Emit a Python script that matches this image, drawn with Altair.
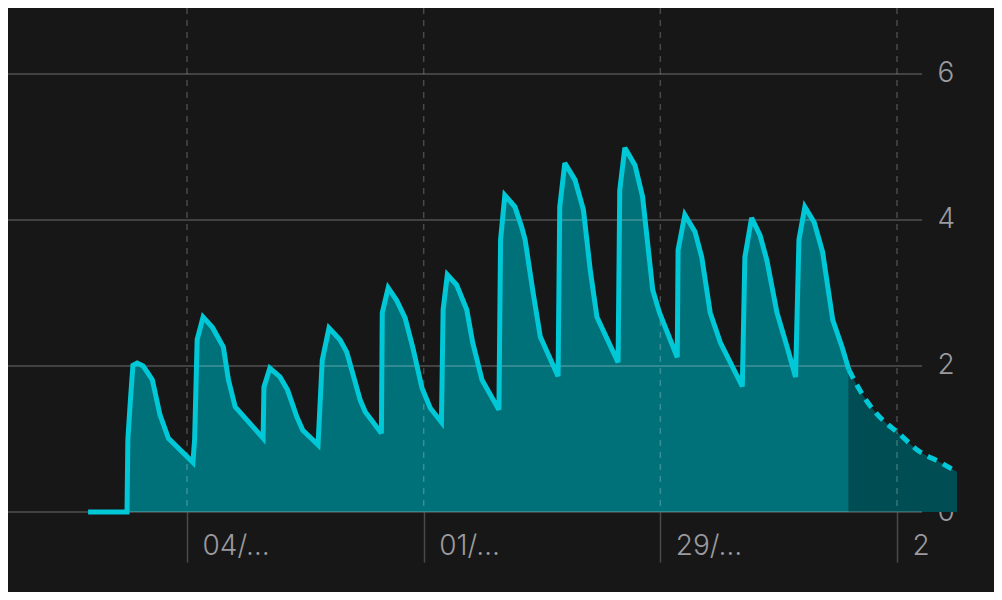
import altair as alt
import pandas as pd


# measured level, one point per reading (days from the first date tick)
actual_day = [
    -11.7, -7.1, -7.0, -6.7, -6.4, -5.9, -5.2, -4.6, -4.1, -3.2, -2.2, 0.7,
    0.9, 1.2, 1.9, 3.0, 4.3, 4.9, 5.7, 9.0,
    9.1, 9.8, 11.0, 11.9, 13.0, 13.7, 15.5,
    16.0, 16.8, 18.1, 18.9, 20.5, 21.1, 23.0,
    23.1, 23.8, 24.8, 25.8, 26.7, 27.8, 28.8, 30.1,
    30.3, 30.8, 31.9, 33.1, 33.8, 34.9, 36.9,
    37.1, 37.6, 38.8, 39.6, 40.0, 40.9, 41.8, 43.9,
    44.1, 44.7, 45.9, 46.9, 47.7, 48.5, 51.0,
    51.2, 51.8, 53.0, 53.9, 55.1, 55.9, 58.0,
    58.1, 58.9, 60.1, 60.9, 61.9, 63.1, 65.7,
    66.0, 66.8, 67.8, 68.6, 69.8, 71.0, 72.0,
    72.4, 73.1, 74.2, 75.2, 76.4, 77.5, 78.3,
]
actual_level = [
    0, 0, 0.99, 1.53, 2.01, 2.04, 2.00, 1.90, 1.81, 1.33, 1.01, 0.68,
    0.99, 2.36, 2.67, 2.53, 2.26, 1.81, 1.44, 1.01,
    1.71, 1.97, 1.85, 1.67, 1.30, 1.12, 0.92,
    2.08, 2.52, 2.36, 2.19, 1.53, 1.37, 1.08,
    2.73, 3.07, 2.90, 2.66, 2.26, 1.70, 1.42, 1.23,
    2.77, 3.25, 3.11, 2.77, 2.32, 1.81, 1.40,
    3.73, 4.34, 4.18, 3.90, 3.73, 3.04, 2.40, 1.86,
    4.18, 4.78, 4.55, 4.14, 3.32, 2.67, 2.05,
    4.41, 4.99, 4.75, 4.32, 3.04, 2.73, 2.12,
    3.59, 4.07, 3.84, 3.49, 2.73, 2.32, 1.72,
    3.49, 4.03, 3.79, 3.45, 2.73, 2.26, 1.85,
    3.73, 4.18, 3.97, 3.56, 2.63, 2.26, 1.95,
]

# projected decay after the last reading
forecast_day = [78.3, 79.6, 81.2, 82.6, 84.0, 86.4, 89.1, 91.1]
forecast_level = [1.95, 1.67, 1.40, 1.23, 1.10, 0.85, 0.68, 0.55]

tick_days = [0, 28, 56, 84]
tick_labels = ["04/…", "01/…", "29/…", "2"]
grid_levels = [0, 2, 4, 6]

X_MIN, X_MAX, GRID_END = -21.18, 91.1, 86.96
Y_MAX = 6.904

BG = "#171717"
LINE = "#00C8D7"
FILL = "#007079"
FILL_DARK = "#004E53"
TEXT = "#9A9A9F"
FONT = "Inter"

actual = pd.DataFrame({"day": actual_day, "level": actual_level})
forecast = pd.DataFrame({"day": forecast_day, "level": forecast_level})
grid = pd.DataFrame({"level": grid_levels, "start": X_MIN, "end": GRID_END})
ticks = pd.DataFrame({"day": tick_days})

label_map = ", ".join(f"'{d}': '{t}'" for d, t in zip(tick_days, tick_labels))
x_axis = alt.Axis(
    values=tick_days, labelExpr="{" + label_map + "}[datum.value]",
    title=None, grid=False, domain=False, ticks=True, tickSize=50,
    tickColor="#4A4A4A", tickWidth=1.5, labelAlign="left", labelOffset=15,
    labelBaseline="alphabetic", labelPadding=-8, labelFlush=False,
    labelColor=TEXT, labelFont=FONT, labelFontSize=28, labelFontWeight=300,
)
y_axis = alt.Axis(
    values=grid_levels, orient="right", offset=-27, title=None, grid=False,
    domain=False, ticks=False, tickSize=0, labelPadding=7, labelColor=TEXT,
    labelFont=FONT, labelFontSize=28, labelFontWeight=300,
)
x_scale = alt.Scale(domain=[X_MIN, X_MAX], nice=False, zero=False)
y_scale = alt.Scale(domain=[0, Y_MAX], nice=False)


def xe(field):
    return alt.X(f"{field}:Q", scale=x_scale, axis=x_axis)


def ye(field):
    return alt.Y(f"{field}:Q", scale=y_scale, axis=y_axis)


area = alt.Chart(actual).mark_area(color=FILL, opacity=1).encode(
    x=xe("day"), y=ye("level")
)
area_fc = alt.Chart(forecast).mark_area(
    color=FILL_DARK, opacity=1, interpolate="monotone"
).encode(x=xe("day"), y=ye("level"))
vlines = alt.Chart(ticks).mark_rule(
    color="white", opacity=0.22, strokeWidth=1.5, strokeDash=[6, 6]
).encode(x=xe("day"))
hlines = alt.Chart(grid).mark_rule(
    color="white", opacity=0.25, strokeWidth=1.5
).encode(x=xe("start"), x2="end", y=ye("level"))
line = alt.Chart(actual).mark_line(
    color=LINE, strokeWidth=5, strokeJoin="miter", strokeMiterLimit=3
).encode(x=xe("day"), y=ye("level"))
line_fc = alt.Chart(forecast).mark_line(
    color=LINE, strokeWidth=5, strokeDash=[10, 7], interpolate="monotone"
).encode(x=xe("day"), y=ye("level"))

chart = alt.layer(area, area_fc, vlines, hlines, line, line_fc).properties(
    width=949, height=504,
    padding={"left": 0, "top": 0, "right": 37, "bottom": 80},
    autosize=alt.AutoSizeParams(type="none"),
    background=BG,
).configure_view(stroke=None)

chart.save("out.html", embed_options={"renderer": "svg", "actions": False})
